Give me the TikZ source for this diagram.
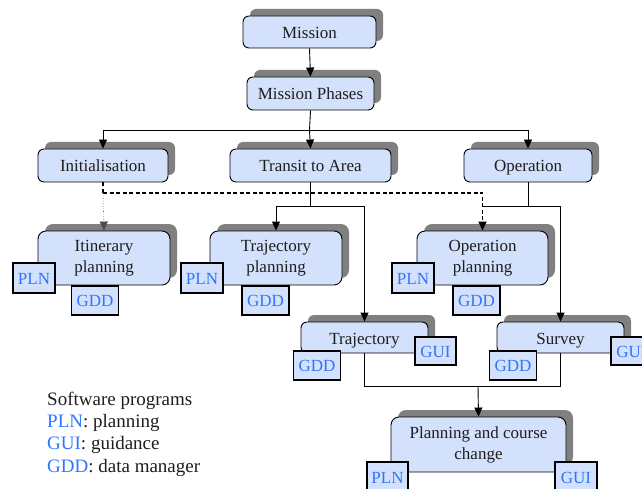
\documentclass[tikz,border=0pt]{standalone}
\usepackage{fontspec}
\setmainfont{Liberation Serif}
\usetikzlibrary{arrows.meta,shadows}
\definecolor{boxfill}{RGB}{212,225,252}
\definecolor{shgray}{RGB}{128,128,128}
\definecolor{progblue}{RGB}{45,118,255}
\definecolor{txt}{RGB}{30,30,30}
\tikzset{
  phase/.style={draw=black, line width=0.9pt, fill=boxfill, rounded corners=6pt,
    inner sep=0pt, align=center, text=txt, font=\fontsize{17}{21}\selectfont,
    drop shadow={shadow xshift=7pt, shadow yshift=7pt, fill=shgray, opacity=1}},
  oneline/.style={text height=13pt, text depth=0pt},
  prog/.style={draw=black, line width=1.8pt, fill=boxfill, inner sep=0pt,
    text=progblue, font=\fontsize{17}{20}\selectfont, text height=12pt, text depth=0pt},
  conn/.style={line width=0.9pt, draw=black},
  arr/.style={conn, -{Triangle[length=9pt,width=8pt]}},
  dashline/.style={line width=1.8pt, dash pattern=on 4pt off 2.5pt},
  legend/.style={anchor=base west, inner sep=0pt, text=txt, font=\fontsize{19}{22}\selectfont}
}
\begin{document}
\begin{tikzpicture}[x=1pt,y=1pt]
\useasboundingbox (0,0) rectangle (642,-489);
\clip (0,0) rectangle (642,-489);
% main boxes
\node[phase, oneline, minimum width=133pt, minimum height=32pt] (mission) at (309.5,-32) {Mission};
\node[phase, oneline, minimum width=127pt, minimum height=33pt] (phases) at (310.5,-93.5) {Mission Phases};
\node[phase, oneline, minimum width=130pt, minimum height=33pt] (init) at (103,-165.5) {Initialisation};
\node[phase, oneline, minimum width=161pt, minimum height=33pt] (transit) at (310.5,-165.5) {Transit to Area};
\node[phase, oneline, minimum width=128pt, minimum height=33pt] (oper) at (528,-165.5) {Operation};
\node[phase, rounded corners=8pt, minimum width=132pt, minimum height=54pt] (itin) at (104,-258) {Itinerary\\planning};
\node[phase, rounded corners=8pt, minimum width=132pt, minimum height=54pt] (trajp) at (276,-258) {Trajectory\\planning};
\node[phase, rounded corners=8pt, minimum width=131pt, minimum height=54pt] (operp) at (482.5,-258) {Operation\\planning};
\node[phase, text height=13pt, text depth=-2pt, minimum width=127pt, minimum height=31pt] (traj) at (364.5,-337.5) {Trajectory};
\node[phase, text height=13pt, text depth=-2pt, minimum width=127pt, minimum height=31pt] (survey) at (560.5,-337.5) {Survey};
\node[phase, rounded corners=8pt, minimum width=175pt, minimum height=55pt] (pcc) at (478.5,-444.5) {Planning and course\\change};
% program boxes
\node[prog, minimum width=42pt, minimum height=30pt] (itinpln) at (34,-278) {PLN};
\node[prog, minimum width=47pt, minimum height=29pt] (itingdd) at (95,-300.5) {GDD};
\node[prog, minimum width=42pt, minimum height=30pt] (trajppln) at (202,-278) {PLN};
\node[prog, minimum width=47pt, minimum height=29pt] (trajpgdd) at (265.5,-300.5) {GDD};
\node[prog, minimum width=42pt, minimum height=30pt] (operppln) at (413,-278) {PLN};
\node[prog, minimum width=47pt, minimum height=29pt] (operpgdd) at (476.5,-300.5) {GDD};
\node[prog, minimum width=47pt, minimum height=29pt] (trajgdd) at (317,-365.5) {GDD};
\node[prog, minimum width=41pt, minimum height=28pt] (trajgui) at (435.5,-351) {GUI};
\node[prog, minimum width=47pt, minimum height=29pt] (survgdd) at (513,-365.5) {GDD};
\node[prog, minimum width=41pt, minimum height=28pt] (survgui) at (631.5,-351) {GUI};
\node[prog, minimum width=41pt, minimum height=30pt] (pccpln) at (387.5,-477) {PLN};
\node[prog, minimum width=42pt, minimum height=30pt] (pccgui) at (576,-477) {GUI};
% bend points
\coordinate (busA) at (309.5,-130);
\coordinate (busT) at (310.5,-206);
\coordinate (busO) at (528,-206);
\coordinate (busD) at (103,-193);
\coordinate (busB) at (478,-386);
% connectors
\draw[arr] (mission.south) -- (phases.north);
\draw[conn] (phases.south) -- (busA);
\draw[arr] (busA) -| (init.north);
\draw[arr] (busA) -- (transit.north);
\draw[arr] (busA) -| (oper.north);
\draw[conn] (transit.south) -- (busT);
\draw[arr] (busT) -| (trajp.north);
\draw[arr] (busT) -| (traj.north);
\draw[conn] (oper.south) -- (busO);
\draw[conn] (busO) -- (operp.north |- busO);
\draw[arr] (busO) -| (survey.north);
\draw[dashline] (init.south) -- (busD);
\draw[dashline, -{Triangle[length=9pt,width=8pt]}] (busD) -| (operp.north);
\draw[line width=0.6pt, dotted, draw=black!70, -{Triangle[length=9pt,width=8pt]}] (busD) -- (itin.north);
\draw[conn] (traj.south) -- (traj.south |- busB) -- (survey.south |- busB) -- (survey.south);
\draw[arr] (busB) -- (pcc.north);
% legend
\node[legend] (leg1) at (47,-405) {Software programs};
\node[legend] (leg2) at (47,-427) {\textcolor{progblue}{PLN}: planning};
\node[legend] (leg3) at (47,-449) {\textcolor{progblue}{GUI}: guidance};
\node[legend] (leg4) at (47,-472) {\textcolor{progblue}{GDD}: data manager};
\end{tikzpicture}
\end{document}
